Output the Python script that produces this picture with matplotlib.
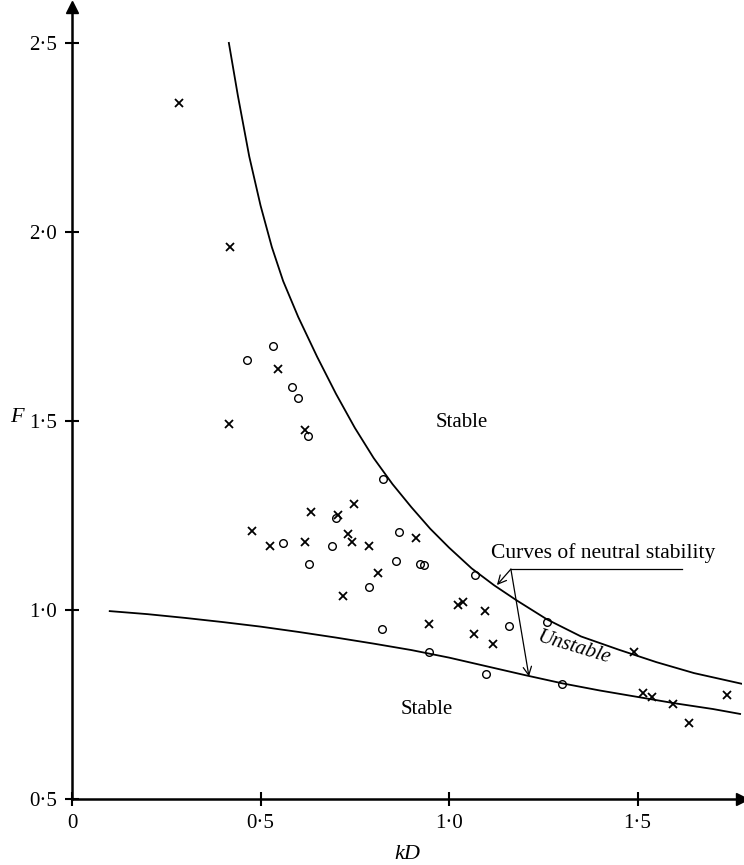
import matplotlib
matplotlib.use("Agg")
import matplotlib.pyplot as plt

plt.rcParams['font.family'] = ['Liberation Serif', 'DejaVu Serif']
plt.rcParams['font.size'] = 15

# measured points (kD, F)
cross_kd = [0.284, 0.419, 0.416, 0.546, 0.619, 0.477, 0.525, 0.635, 0.618, 0.706,
            0.747, 0.731, 0.743, 0.788, 0.719, 0.812, 0.912, 0.948, 1.023, 1.036,
            1.095, 1.067, 1.117, 1.491, 1.515, 1.538, 1.595, 1.637, 1.737]
cross_f = [2.340, 1.961, 1.492, 1.638, 1.476, 1.210, 1.169, 1.259, 1.179, 1.251,
           1.280, 1.200, 1.180, 1.169, 1.038, 1.098, 1.190, 0.964, 1.012, 1.020,
           0.997, 0.937, 0.909, 0.889, 0.780, 0.770, 0.751, 0.702, 0.774]

circle_kd = [0.534, 0.465, 0.584, 0.599, 0.626, 0.826, 0.560, 0.629, 0.700, 0.690,
             0.789, 0.867, 0.858, 0.923, 0.934, 0.822, 0.948, 1.069, 1.160, 1.098,
             1.260, 1.299]
circle_f = [1.699, 1.661, 1.590, 1.561, 1.460, 1.347, 1.177, 1.122, 1.242, 1.170,
            1.061, 1.207, 1.129, 1.122, 1.118, 0.951, 0.890, 1.093, 0.957, 0.831,
            0.968, 0.803]

# neutral stability curves
upper_kd = [0.416, 0.44, 0.47, 0.50, 0.53, 0.56, 0.60, 0.65, 0.70, 0.75, 0.80, 0.85,
            0.90, 0.95, 1.00, 1.06, 1.12, 1.18, 1.26, 1.35, 1.45, 1.55, 1.65, 1.78]
upper_f = [2.50, 2.36, 2.20, 2.07, 1.96, 1.87, 1.775, 1.67, 1.572, 1.482, 1.402, 1.333,
           1.272, 1.215, 1.165, 1.11, 1.065, 1.025, 0.975, 0.93, 0.895, 0.862, 0.833, 0.804]

lower_kd = [0.10, 0.20, 0.30, 0.40, 0.50, 0.60, 0.70, 0.80, 0.90, 1.00, 1.10, 1.20,
            1.30, 1.40, 1.50, 1.60, 1.70, 1.772]
lower_f = [0.997, 0.989, 0.979, 0.968, 0.956, 0.942, 0.927, 0.911, 0.894, 0.874, 0.851, 0.828,
           0.806, 0.787, 0.770, 0.753, 0.738, 0.725]

x_ticks = [0, 0.5, 1.0, 1.5]
x_labels = ['0', '0·5', '1·0', '1·5']
y_ticks = [0.5, 1.0, 1.5, 2.0, 2.5]
y_labels = ['0·5', '1·0', '1·5', '2·0', '2·5']

fig = plt.figure(figsize=(7.44, 8.65), dpi=100)
ax = fig.add_axes([0.0968, 0.0763, 0.9005, 0.9156])

ax.plot(upper_kd, upper_f, color='black', lw=1.3)
ax.plot(lower_kd, lower_f, color='black', lw=1.3)
ax.plot(cross_kd, cross_f, linestyle='none', marker='x', ms=5.5, mew=1.3, color='black')
ax.plot(circle_kd, circle_f, linestyle='none', marker='o', ms=5.5, mew=1.0,
        markerfacecolor='none', markeredgecolor='black')

ax.set_xlim(0, 1.777)
ax.set_ylim(0.5, 2.595)
for s in ['top', 'right']:
    ax.spines[s].set_visible(False)
for s in ['left', 'bottom']:
    ax.spines[s].set_linewidth(1.8)
ax.plot(1, 0, marker='>', ms=8, color='black', transform=ax.transAxes, clip_on=False)
ax.plot(0, 1, marker='^', ms=9, color='black', transform=ax.transAxes, clip_on=False)

ax.set_xticks(x_ticks)
ax.set_xticklabels(x_labels)
ax.set_yticks(y_ticks)
ax.set_yticklabels(y_labels)
ax.tick_params(direction='inout', length=10, width=1.5, pad=6)

ax.text(0.889, 0.352, 'kD', style='italic', ha='center', va='center', fontsize=16)
ax.text(-0.146, 1.508, 'F', style='italic', ha='center', va='center', fontsize=16)

ax.text(1.034, 1.495, 'Stable', ha='center', va='center')
ax.text(0.942, 0.738, 'Stable', ha='center', va='center')
ax.text(1.329, 0.899, 'Unstable', style='italic', ha='center', va='center', rotation=-17)
ax.text(1.408, 1.151, 'Curves of neutral stability', ha='center', va='center', fontsize=15.5)

ax.plot([1.164, 1.617], [1.108, 1.108], color='black', lw=0.9)
ax.annotate('', xy=(1.127, 1.066), xytext=(1.164, 1.108),
            arrowprops=dict(arrowstyle='->', lw=0.9, color='black', shrinkA=0, shrinkB=0))
ax.annotate('', xy=(1.212, 0.824), xytext=(1.164, 1.108),
            arrowprops=dict(arrowstyle='->', lw=0.9, color='black', shrinkA=0, shrinkB=0))

plt.savefig('out.png', dpi=100)
